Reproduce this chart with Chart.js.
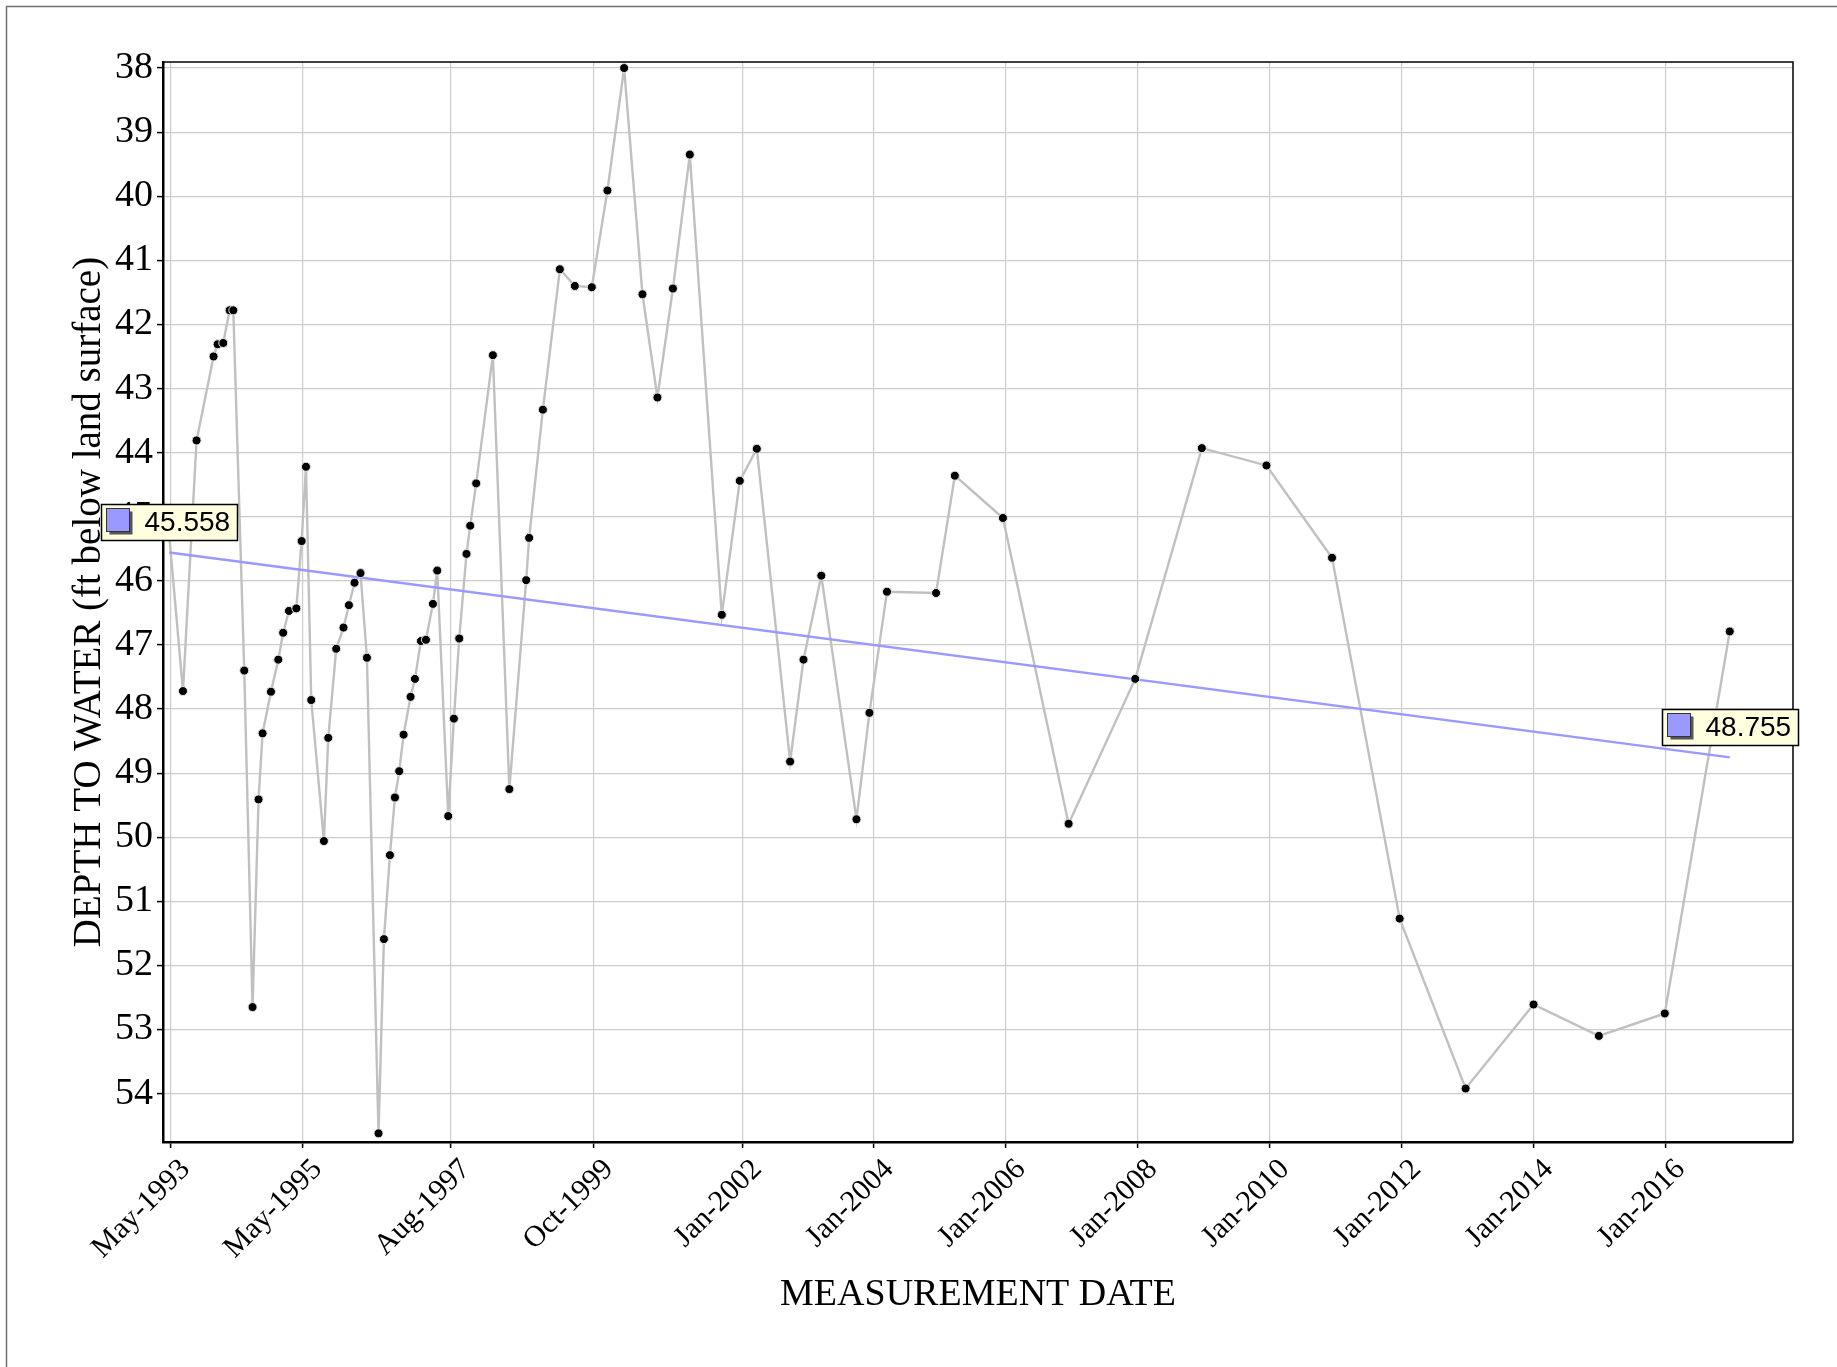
<!DOCTYPE html>
<html>
<head>
<meta charset="utf-8">
<script src="https://cdn.jsdelivr.net/npm/chart.js@4.4.0/dist/chart.umd.min.js"></script>
<style>
html,body{margin:0;padding:0;background:#fff;}
canvas{display:block;}
</style>
</head>
<body>
<canvas id="c" width="1837" height="1367"></canvas>
<script>
// ---- DATA ----
const measurementYears = [
  1993.313, 1993.521, 1993.727, 1993.985, 1994.046, 1994.132, 1994.228, 1994.284,
  1994.450, 1994.576, 1994.667, 1994.728, 1994.855, 1994.966, 1995.040, 1995.128,
  1995.240, 1995.320, 1995.386, 1995.466, 1995.658, 1995.724, 1995.845, 1995.955,
  1996.037, 1996.122, 1996.213, 1996.310, 1996.486, 1996.568, 1996.659, 1996.735,
  1996.800, 1996.866, 1996.972, 1997.038, 1997.129, 1997.205, 1997.311, 1997.376,
  1997.543, 1997.629, 1997.710, 1997.820, 1997.876, 1997.967, 1998.220, 1998.470,
  1998.725, 1998.770, 1998.978, 1999.236, 1999.463, 1999.720, 1999.957, 2000.210,
  2000.488, 2000.715, 2000.950, 2001.206, 2001.691, 2001.964, 2002.222, 2002.727,
  2002.930, 2003.200, 2003.733, 2003.930, 2004.196, 2004.940, 2005.225, 2005.954,
  2006.950, 2007.960, 2008.970, 2009.950, 2010.944, 2011.970, 2012.970, 2014.000,
  2014.990, 2015.990, 2016.975
];
const depthToWater = [
  45.30, 47.72, 43.81, 42.50, 42.31, 42.29, 41.78, 41.78,
  47.40, 52.65, 49.41, 48.38, 47.73, 47.23, 46.81, 46.47,
  46.43, 45.38, 44.22, 47.86, 50.06, 48.45, 47.06, 46.73,
  46.38, 46.03, 45.88, 47.20, 54.62, 51.59, 50.28, 49.38,
  48.97, 48.40, 47.81, 47.53, 46.94, 46.92, 46.36, 45.84,
  49.67, 48.15, 46.90, 45.58, 45.14, 44.48, 42.48, 49.25,
  45.99, 45.33, 43.33, 41.14, 41.40, 41.42, 39.91, 38.00,
  41.53, 43.14, 41.44, 39.35, 46.53, 44.44, 43.94, 48.82,
  47.23, 45.92, 49.72, 48.06, 46.17, 46.19, 44.36, 45.02,
  49.79, 47.53, 43.93, 44.20, 45.64, 51.27, 53.92, 52.61,
  53.10, 52.75, 46.79
];
const trendValues = [45.558, 48.755];
const xTickLabels = ['May-1993','May-1995','Aug-1997','Oct-1999','Jan-2002','Jan-2004',
  'Jan-2006','Jan-2008','Jan-2010','Jan-2012','Jan-2014','Jan-2016'];
const yTickValues = [38,39,40,41,42,43,44,45,46,47,48,49,50,51,52,53,54];
const xAxisTitle = 'MEASUREMENT DATE';
const yAxisTitle = 'DEPTH TO WATER (ft below land surface)';

// ---- helpers ----
const MONTHS = ['Jan','Feb','Mar','Apr','May','Jun','Jul','Aug','Sep','Oct','Nov','Dec'];
function labelToYear(lbl) {
  const [m, y] = lbl.split('-');
  return parseInt(y, 10) + MONTHS.indexOf(m) / 12;
}
const seriesPoints = measurementYears.map((x, i) => ({x: x, y: depthToWater[i]}));
const trendPoints = [
  {x: measurementYears[0], y: trendValues[0]},
  {x: measurementYears[measurementYears.length - 1], y: trendValues[1]}
];

const SERIF = "'Liberation Serif', 'Times New Roman', serif";
const SANS = "'Liberation Sans', Arial, sans-serif";

const framePlugin = {
  id: 'frame',
  beforeDraw(chart) {
    const ctx = chart.ctx;
    ctx.save();
    ctx.fillStyle = '#fff';
    ctx.fillRect(0, 0, chart.width, chart.height);
    ctx.strokeStyle = '#707070';
    ctx.lineWidth = 1.5;
    ctx.beginPath();
    ctx.moveTo(6.5, chart.height);
    ctx.lineTo(6.5, 6.5);
    ctx.lineTo(chart.width, 6.5);
    ctx.stroke();
    ctx.restore();
  },
  afterDatasetsDraw(chart) {
    const {left, top, right, bottom} = chart.chartArea;
    const ctx = chart.ctx;
    ctx.save();
    ctx.strokeStyle = '#000';
    ctx.lineWidth = 1.5;
    ctx.beginPath();
    ctx.moveTo(left, top);
    ctx.lineTo(right, top);
    ctx.lineTo(right, bottom);
    ctx.stroke();
    ctx.restore();
  }
};

const trendLabelPlugin = {
  id: 'trendLabels',
  afterDatasetsDraw(chart) {
    const xs = chart.scales.x, ys = chart.scales.y;
    const ctx = chart.ctx;
    trendPoints.forEach(p => {
      const px = xs.getPixelForValue(p.x);
      const py = ys.getPixelForValue(p.y);
      const w = 136, h = 36;
      const bx = Math.round(px - w / 2) + 0.5;
      const by = Math.round(py - 30 - h / 2) + 0.5;
      ctx.save();
      ctx.fillStyle = '#ffffe0';
      ctx.fillRect(bx, by, w, h);
      ctx.strokeStyle = '#000';
      ctx.lineWidth = 1.5;
      ctx.strokeRect(bx, by, w, h);
      // icon with shadow
      ctx.fillStyle = '#555';
      ctx.fillRect(bx + 8, by + 7, 23, 23);
      ctx.fillStyle = '#9999ff';
      ctx.fillRect(bx + 5, by + 4, 23, 23);
      ctx.strokeStyle = '#333';
      ctx.lineWidth = 1;
      ctx.strokeRect(bx + 5, by + 4, 23, 23);
      ctx.fillStyle = '#000';
      ctx.font = '28px ' + SANS;
      ctx.textBaseline = 'middle';
      ctx.textAlign = 'left';
      ctx.fillText(p.y.toFixed(3), bx + 43, by + h / 2 + 1);
      ctx.restore();
    });
  }
};

new Chart(document.getElementById('c'), {
  type: 'line',
  data: {
    datasets: [
      {
        label: 'points',
        data: seriesPoints,
        showLine: false,
        pointRadius: 4.5,
        pointBackgroundColor: '#000',
        pointBorderColor: '#e6e6e6',
        pointBorderWidth: 1,
        order: 0
      },
      {
        label: 'trend',
        data: trendPoints,
        borderColor: '#9999ff',
        borderWidth: 2.4,
        pointRadius: 0,
        tension: 0,
        order: 1
      },
      {
        label: 'line',
        data: seriesPoints,
        borderColor: '#c0c0c0',
        borderWidth: 2.4,
        pointRadius: 0,
        tension: 0,
        order: 2
      }
    ]
  },
  options: {
    responsive: false,
    animation: false,
    devicePixelRatio: 1,
    layout: { padding: { top: 62, right: 44, left: 0, bottom: 0 } },
    plugins: { legend: { display: false }, tooltip: { enabled: false } },
    scales: {
      x: {
        type: 'linear',
        min: 1993.218,
        max: 2017.934,
        afterBuildTicks: s => { s.ticks = xTickLabels.map(l => ({ value: labelToYear(l) })); },
        afterFit: s => { s.height = 225; },
        ticks: {
          callback: (v, i) => xTickLabels[i],
          autoSkip: false,
          minRotation: 45,
          maxRotation: 45,
          color: '#000',
          font: { family: SERIF, size: 30 },
          padding: 4,
          labelOffset: 15
        },
        grid: { color: '#cccccc', lineWidth: 1.2, tickLength: 6, tickColor: '#000', tickWidth: 1.5 },
        border: { display: true, color: '#000', width: 2.5 },
        title: {
          display: true,
          text: xAxisTitle,
          color: '#000',
          font: { family: SERIF, size: 38 },
          padding: { top: 0, bottom: 49 }
        }
      },
      y: {
        type: 'linear',
        reverse: true,
        min: 37.906,
        max: 54.755,
        afterBuildTicks: s => { s.ticks = yTickValues.map(v => ({ value: v })); },
        afterFit: s => { s.width = 163; },
        ticks: {
          color: '#000',
          font: { family: SERIF, size: 38 },
          padding: 4
        },
        grid: { color: '#cccccc', lineWidth: 1.2, tickLength: 6, tickColor: '#000', tickWidth: 1.5 },
        border: { display: true, color: '#000', width: 2.5 },
        title: {
          display: true,
          text: yAxisTitle,
          color: '#000',
          font: { family: SERIF, size: 39 },
          padding: { top: 66, bottom: 0 }
        }
      }
    }
  },
  plugins: [framePlugin, trendLabelPlugin]
});
</script>
</body>
</html>
